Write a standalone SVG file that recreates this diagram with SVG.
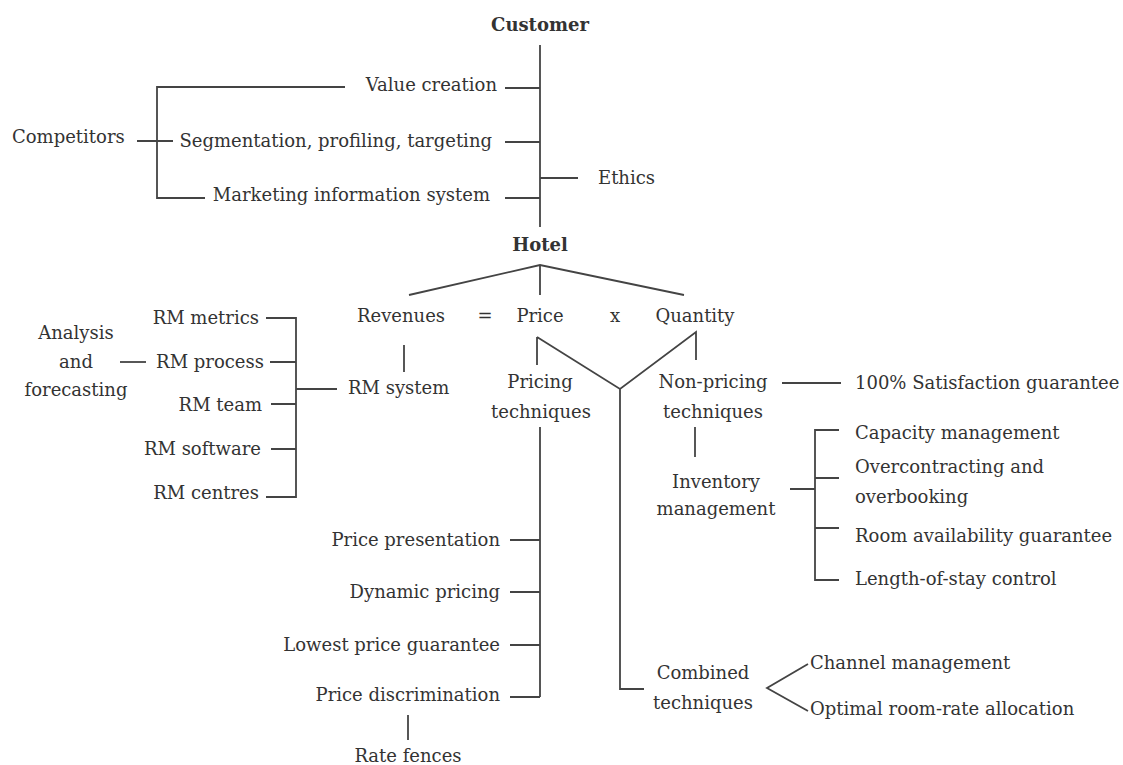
<svg xmlns="http://www.w3.org/2000/svg" width="1123" height="765" viewBox="0 0 1123 765">
<style>
text{font-family:"DejaVu Serif","Liberation Serif",serif;font-size:18px;fill:#333}
.b{font-weight:bold}
.m{text-anchor:middle}
.e{text-anchor:end}
.c path{fill:none;stroke:#444;stroke-width:1.8}
</style>
<rect width="1123" height="765" fill="#fff"/>
<g class="c" id="connectors">
<path d="M540 45V227"/>
<path d="M505 88H540M505 142H540M505 198H540M540 178H578"/>
<path d="M345 87H157V198H205M137 141H173"/>
<path d="M409 295L540 265L684 295M540 265V295"/>
<path d="M404 345V372"/>
<path d="M537 337V365M537 337L620 389L696 332V360M620 389V689H644"/>
<path d="M540 427V697M510 540H540M510 592H540M510 645H540M510 697H540"/>
<path d="M408 715V740"/>
<path d="M808 664L767 688L808 711"/>
<path d="M266 318H296V497H266M270 362H296M271 404H296M271 449H296M296 389H337"/>
<path d="M120 362H146"/>
<path d="M782 383H841"/>
<path d="M695 427V457"/>
<path d="M790 489H815M839 430H815V580H839M815 478H839M815 528H839"/>
</g>
<g id="customer"><text class="b m" x="540" y="31">Customer</text></g>
<g id="value-creation"><text class="e" x="497" y="91">Value creation</text></g>
<g id="segmentation"><text class="e" x="492" y="147">Segmentation, profiling, targeting</text></g>
<g id="mis"><text class="e" x="490" y="201">Marketing information system</text></g>
<g id="competitors"><text x="12" y="143">Competitors</text></g>
<g id="ethics"><text x="598" y="184">Ethics</text></g>
<g id="hotel"><text class="b m" x="540" y="251">Hotel</text></g>
<g id="revenues"><text class="m" x="401" y="322">Revenues</text></g>
<g id="equals"><text class="m" x="485" y="322">=</text></g>
<g id="price"><text class="m" x="540" y="322">Price</text></g>
<g id="times"><text class="m" x="615" y="322">x</text></g>
<g id="quantity"><text class="m" x="695" y="322">Quantity</text></g>
<g id="rm-system"><text x="348" y="394">RM system</text></g>
<g id="rm-metrics"><text class="e" x="259" y="324">RM metrics</text></g>
<g id="rm-process"><text class="e" x="264" y="368">RM process</text></g>
<g id="rm-team"><text class="e" x="262" y="411">RM team</text></g>
<g id="rm-software"><text class="e" x="261" y="455">RM software</text></g>
<g id="rm-centres"><text class="e" x="259" y="499">RM centres</text></g>
<g id="analysis"><text class="m" x="76" y="339">Analysis</text><text class="m" x="76" y="368">and</text><text class="m" x="76" y="396">forecasting</text></g>
<g id="pricing-techniques"><text class="m" x="540" y="388">Pricing</text><text class="m" x="541" y="418">techniques</text></g>
<g id="non-pricing-techniques"><text class="m" x="713" y="388">Non-pricing</text><text class="m" x="713" y="418">techniques</text></g>
<g id="satisfaction"><text x="855" y="389">100% Satisfaction guarantee</text></g>
<g id="inventory"><text class="m" x="716" y="488">Inventory</text><text class="m" x="716" y="515">management</text></g>
<g id="capacity"><text x="855" y="439">Capacity management</text></g>
<g id="overcontracting"><text x="855" y="473">Overcontracting and</text><text x="855" y="503">overbooking</text></g>
<g id="room-availability"><text x="855" y="542">Room availability guarantee</text></g>
<g id="length-of-stay"><text x="855" y="585">Length-of-stay control</text></g>
<g id="price-presentation"><text class="e" x="500" y="546">Price presentation</text></g>
<g id="dynamic-pricing"><text class="e" x="500" y="598">Dynamic pricing</text></g>
<g id="lowest-price"><text class="e" x="500" y="651">Lowest price guarantee</text></g>
<g id="price-discrimination"><text class="e" x="500" y="701">Price discrimination</text></g>
<g id="rate-fences"><text class="m" x="408" y="762">Rate fences</text></g>
<g id="combined"><text class="m" x="703" y="679">Combined</text><text class="m" x="703" y="709">techniques</text></g>
<g id="channel"><text x="810" y="669">Channel management</text></g>
<g id="optimal"><text x="810" y="715">Optimal room-rate allocation</text></g>
</svg>
